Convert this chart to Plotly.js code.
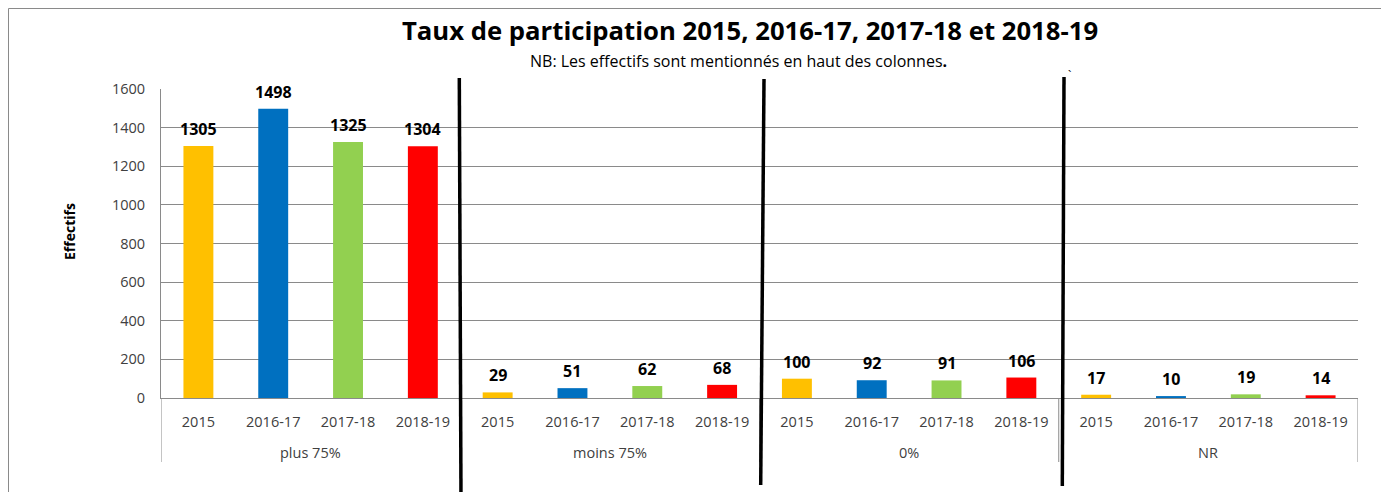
<!DOCTYPE html>
<html>
<head>
<meta charset="utf-8">
<script src="https://cdn.plot.ly/plotly-3.0.1.min.js"></script>
<style>html,body{margin:0;padding:0;background:#fff;}#chart{width:1381px;height:492px;}</style>
</head>
<body>
<div id="chart"></div>
<script>
// ---- data ----
const groups = ["plus 75%", "moins 75%", "0%", "NR"];
const years = ["2015", "2016-17", "2017-18", "2018-19"];
const yearColors = ["#FFC000", "#0070C0", "#92D050", "#FF0000"];
const plus75 = [1305, 1498, 1325, 1304];
const moins75 = [29, 51, 62, 68];
const zero = [100, 92, 91, 106];
const nr = [17, 10, 19, 14];
const titleText = "Taux de participation 2015, 2016-17, 2017-18 et 2018-19";
const subtitleText = "NB: Les effectifs sont mentionnés en haut des colonnes<b>.</b>";
const yTitle = "Effectifs";

// ---- build ----
const series = [plus75, moins75, zero, nr];
const xs = [], tickText = [], vals = [], cols = [];
groups.forEach((g, gi) => {
  years.forEach((yr, yi) => {
    xs.push(gi * years.length + yi);
    tickText.push(yr);
    vals.push(series[gi][yi]);
    cols.push(yearColors[yi]);
  });
});
const nCat = xs.length;

const FONT = "Open Sans, Noto Sans, sans-serif";
const GRAY = "#8a8a8a";

const trace = {
  type: "bar",
  x: xs,
  y: vals,
  width: 0.4,
  marker: { color: cols, line: { width: 0 } },
  hoverinfo: "y"
};

// plot area in pixels: left 161, right 1358, top 89, bottom 398
const L = 161, R = 1358, T = 89, B = 398;
const px = v => (v - L) / (R - L);
const py = v => (B - v) / (B - T);

const annotations = vals.map((v, i) => ({
  x: xs[i], y: v, xref: "x", yref: "y",
  text: "<b>" + v + "</b>", showarrow: false,
  yanchor: "middle", yshift: 17,
  font: { family: FONT, size: 16, color: "#000" }
}));
groups.forEach((g, gi) => {
  annotations.push({
    x: gi * years.length + (years.length - 1) / 2, y: py(452), xref: "x", yref: "paper",
    text: g, showarrow: false, xanchor: "center", yanchor: "middle",
    font: { family: FONT, size: 14.5, color: "#404040" }
  });
});
annotations.push({
  x: px(738), y: py(61), xref: "paper", yref: "paper",
  text: subtitleText, showarrow: false, xanchor: "center", yanchor: "middle",
  font: { family: FONT, size: 16, color: "#000" }
});
annotations.push({
  x: px(69), y: py(232), xref: "paper", yref: "paper",
  text: "<b>" + yTitle + "</b>", showarrow: false, textangle: -90,
  xanchor: "center", yanchor: "middle",
  font: { family: FONT, size: 14, color: "#000" }
});
annotations.push({
  x: px(1069), y: py(75), xref: "paper", yref: "paper",
  text: "`", showarrow: false, xanchor: "center", yanchor: "middle",
  font: { family: FONT, size: 12, color: "#000" }
});

const sep = (x0, y0, x1, y1) => ({
  type: "line", xref: "paper", yref: "paper",
  x0: px(x0), y0: py(y0), x1: px(x1), y1: py(y1),
  line: { color: "#000", width: 3.5 }
});

const shapes = [
  { type: "rect", xref: "paper", yref: "paper", x0: px(8.5), y0: py(8.5), x1: px(1400), y1: py(520),
    line: { color: GRAY, width: 1 }, fillcolor: "rgba(0,0,0,0)", layer: "below" }
];
// category-group dividers below the axis
for (let gi = 0; gi <= groups.length; gi++) {
  const xd = gi * years.length - 0.5;
  shapes.push({ type: "line", xref: "x", yref: "paper", x0: xd, x1: xd, y0: 0, y1: py(462),
    line: { color: GRAY, width: 1 } });
}
shapes.push(sep(459.3, 78, 461, 500), sep(764, 79, 760.7, 485), sep(1064, 77, 1062.3, 486));

const layout = {
  width: 1381, height: 492,
  margin: { l: L, r: 1381 - R, t: T, b: 492 - B, pad: 0 },
  paper_bgcolor: "#fff", plot_bgcolor: "#fff",
  showlegend: false,
  font: { family: FONT, color: "#404040", size: 14.5 },
  title: {
    text: "<b>" + titleText + "</b>",
    x: 750 / 1381, xref: "container", xanchor: "center",
    y: 1 - 31 / 492, yref: "container", yanchor: "middle",
    font: { family: FONT, size: 25.7, color: "#000" }
  },
  xaxis: {
    range: [-0.5, nCat - 0.5],
    tickmode: "array", tickvals: xs, ticktext: tickText,
    showline: true, linecolor: GRAY, linewidth: 1,
    showgrid: false, zeroline: false,
    ticks: "outside", ticklen: 11, tickcolor: "rgba(0,0,0,0)",
    tickfont: { family: FONT, size: 14.5, color: "#404040" },
    fixedrange: true
  },
  yaxis: {
    range: [0, 1600], dtick: 200, tick0: 0,
    showline: true, linecolor: GRAY, linewidth: 1,
    showgrid: true, gridcolor: GRAY, gridwidth: 1,
    zeroline: false,
    ticks: "outside", ticklen: 12, tickcolor: "rgba(0,0,0,0)",
    tickfont: { family: FONT, size: 14.5, color: "#404040" },
    fixedrange: true
  },
  annotations: annotations,
  shapes: shapes
};

Plotly.newPlot("chart", [trace], layout, { displayModeBar: false, staticPlot: true });
</script>
</body>
</html>
